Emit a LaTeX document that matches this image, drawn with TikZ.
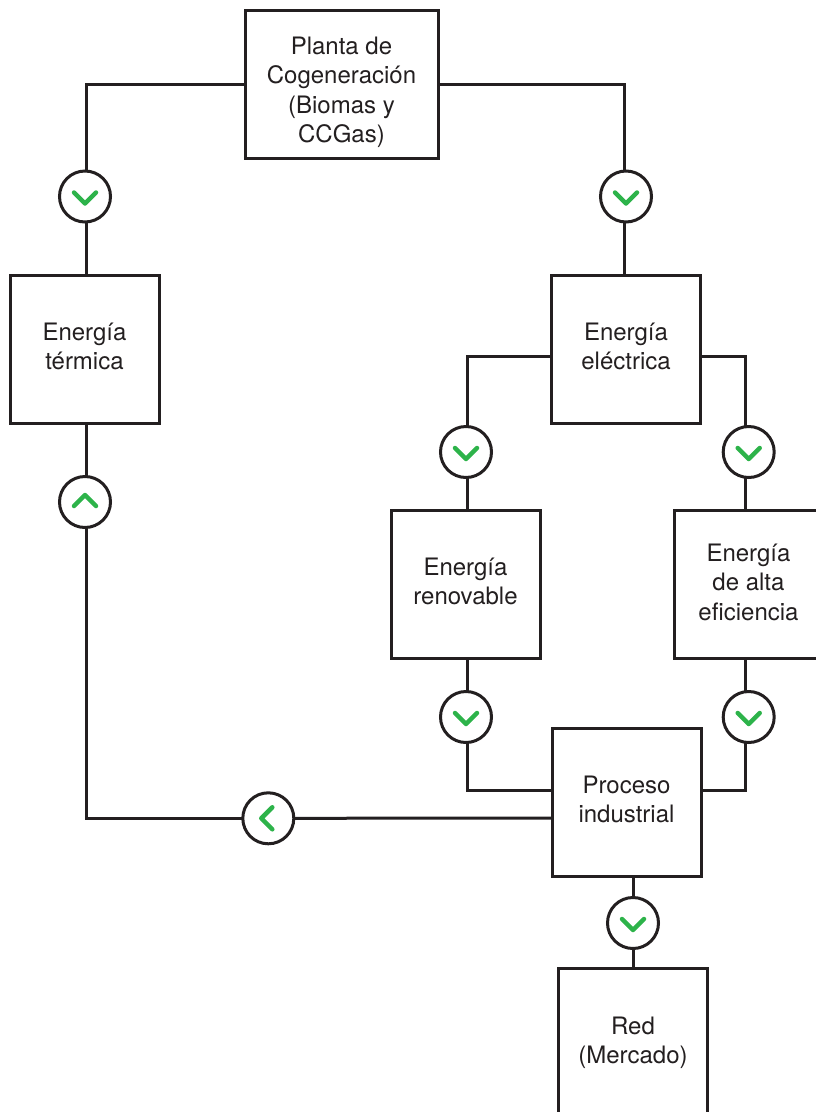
\documentclass[tikz,border=0pt]{standalone}
\usepackage{fontspec}
\setmainfont{TeX Gyre Heros}
\definecolor{ink}{HTML}{231F20}
\definecolor{tick}{HTML}{2DB34A}
\newcommand{\deeper}[1]{\rule[-#1]{0pt}{#1}}
\newcommand{\taller}[1]{\rule{0pt}{#1}}
\begin{document}
\begin{tikzpicture}[x=1pt, y=-1pt,
	box/.style={draw=ink, line width=3pt, outer sep=0pt, inner sep=0pt, minimum width=149pt, minimum height=148pt, align=center, text=ink, font=\fontsize{24}{29.3}\selectfont},
	valve/.style={draw=ink, line width=3pt, circle, outer sep=0pt, inner sep=0pt, minimum size=51pt},
	link/.style={draw=ink, line width=3pt},
	chevron/.style={draw=tick, line width=4.5pt, line cap=round, line join=round}
]
\useasboundingbox (0,0) rectangle (815,1112);

% NODES
\node[box, minimum width=193pt](planta) at(341.5, 84.5) {\taller{33pt}Planta de\\Cogeneración\\(Biomas y\\CCGas)};
\node[box](termica) at(84.5, 349) {Energía\\térmica\deeper{6pt}};
\node[box](electrica) at(626, 349) {Energía\\eléctrica\deeper{6pt}};
\node[box](renovable) at(465.5, 584) {Energía\\renovable\deeper{6pt}};
\node[box](alta) at(748.5, 584) {Energía\\de alta\\eficiencia\deeper{4pt}};
\node[box](proceso) at(626.5, 802) {Proceso\\industrial\deeper{6pt}};
\node[box](red) at(633, 1042) {\taller{19.5pt}Red\\(Mercado)};

\foreach \n/\x/\y in{
	vTermica/85/196.5, vElectrica/626/196.5, vRetorno/85/502,%
	vRenovable/466/452, vAlta/748.7/452, vRenovableOut/466/717,%
	vAltaOut/748.7/717, vRed/633/923, vProceso/268.3/818.3%
}{
	\node[valve](\n) at(\x,\y) {};
}

% ARCS
\draw[link] (planta.west) -| ([xshift=1pt]vTermica.north);
\draw[link] ([xshift=1pt]vTermica.south) -- ([xshift=1pt]vTermica.south |- termica.north);
\draw[link] (planta.east) -| ([xshift=-2pt]vElectrica.north);
\draw[link] ([xshift=-2pt]vElectrica.south) -- ([xshift=-2pt]vElectrica.south |- electrica.north);

\draw[link] ([yshift=-7pt]electrica.west) -| ([xshift=1pt]vRenovable.north);
\draw[link] ([xshift=1pt]vRenovable.south) -- ([xshift=1pt]vRenovable.south |- renovable.north);
\draw[link] ([yshift=-7pt]electrica.east) -| ([xshift=-3pt]vAlta.north);
\draw[link] ([xshift=-3pt]vAlta.south) -- ([xshift=-3pt]vAlta.south |- alta.north);

\draw[link] ([xshift=1pt]vRenovableOut.north |- renovable.south) -- ([xshift=1pt]vRenovableOut.north);
\draw[link] ([xshift=1pt]vRenovableOut.south) |- ([yshift=12pt]proceso.west);
\draw[link] ([xshift=-3pt]vAltaOut.north |- alta.south) -- ([xshift=-3pt]vAltaOut.north);
\draw[link] ([xshift=-3pt]vAltaOut.south) |- ([yshift=12pt]proceso.east);

\draw[link] (vRed.north |- proceso.south) -- (vRed.north);
\draw[link] (vRed.south) -- (vRed.south |- red.north);

\draw[link] ([yshift=-16pt]proceso.west) -- (vProceso.east);
\draw[link] (vProceso.west) -| ([xshift=1pt]vRetorno.south);
\draw[link] ([xshift=1pt]vRetorno.north) -- ([xshift=1pt]vRetorno.north |- termica.south);

% TICKS
\foreach \n/\r in{
	vTermica/0, vElectrica/0, vRetorno/180, vRenovable/0, vAlta/0,%
	vRenovableOut/0, vAltaOut/0, vRed/0, vProceso/-90%
}{
	\draw[chevron, shift={(\n.center)}, rotate=\r] (-11,-4) -- (0,7) -- (11,-4);
}

\end{tikzpicture}
\end{document}
